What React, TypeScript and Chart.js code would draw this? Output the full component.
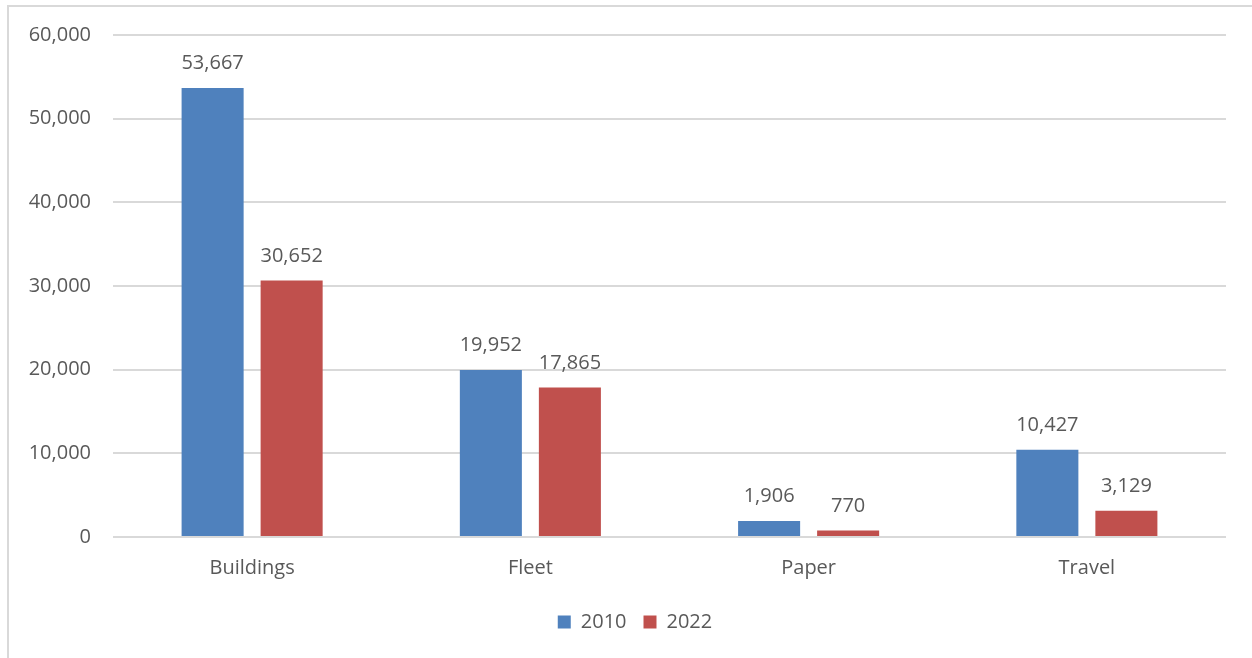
import React, { useEffect, useRef } from "react";
import { Chart, registerables } from "chart.js";

Chart.register(...registerables);

const categories = ["Buildings", "Fleet", "Paper", "Travel"];
const series2010 = [53667, 19952, 1906, 10427];
const series2022 = [30652, 17865, 770, 3129];
const seriesLabels = ["2010", "2022"];
const yTicks = [0, 10000, 20000, 30000, 40000, 50000, 60000];

const FONT = "'Open Sans', 'Noto Sans', sans-serif";
const TEXT = "#595959";

const valueLabels = {
  id: "valueLabels",
  afterLayout(chart: any) {
    if (chart.legend) {
      chart.legend.left += 22;
      chart.legend.right += 22;
    }
  },
  afterDatasetsDraw(chart: any) {
    const ctx = chart.ctx;
    ctx.save();
    ctx.font = `20px ${FONT}`;
    ctx.fillStyle = TEXT;
    ctx.textAlign = "center";
    ctx.textBaseline = "alphabetic";
    chart.data.datasets.forEach((ds: any, di: number) => {
      const meta = chart.getDatasetMeta(di);
      meta.data.forEach((bar: any, i: number) => {
        const v = ds.data[i] as number;
        ctx.fillText(v.toLocaleString("en-US"), bar.x, bar.y - 19);
      });
    });
    ctx.restore();
  },
};

export default function App() {
  const ref = useRef<HTMLCanvasElement>(null);
  useEffect(() => {
    const chart = new Chart(ref.current!, {
      type: "bar",
      data: {
        labels: categories,
        datasets: [
          { label: seriesLabels[0], data: series2010, backgroundColor: "#4F81BD" },
          { label: seriesLabels[1], data: series2022, backgroundColor: "#C0504D" },
        ],
      },
      options: {
        animation: false,
        responsive: false,
        maintainAspectRatio: false,
        devicePixelRatio: 1,
        layout: { padding: { left: 0, right: 26, top: 35, bottom: 16 } },
        datasets: { bar: { categoryPercentage: 0.568, barPercentage: 0.785 } },
        plugins: {
          tooltip: { enabled: false },
          legend: {
            position: "bottom",
            labels: {
              boxWidth: 13,
              boxHeight: 13,
              padding: 17,
              color: TEXT,
              font: { family: FONT, size: 20 },
            },
          },
        },
        scales: {
          x: {
            grid: { display: false, drawTicks: false },
            border: { display: false },
            ticks: { color: TEXT, font: { family: FONT, size: 20 }, padding: 19 },
            afterFit: (s: any) => { s.height = 58; },
          },
          y: {
            min: 0,
            max: 60000,
            afterBuildTicks: (s: any) => { s.ticks = yTicks.map((v) => ({ value: v })); },
            grid: { color: "#d9d9d9", lineWidth: 2, drawTicks: false },
            border: { display: false },
            ticks: {
              color: TEXT,
              font: { family: FONT, size: 20 },
              padding: 22,
              callback: (v: any) => Number(v).toLocaleString("en-US"),
            },
            afterFit: (s: any) => { s.width = 113; },
          },
        },
      },
      plugins: [valueLabels],
    });
    return () => chart.destroy();
  }, []);
  return (
    <div style={{ position: "fixed", left: 0, top: 0, width: 1252, height: 658, overflow: "hidden", background: "#fff" }}>
      <div style={{ position: "absolute", left: 7, top: 5, width: 1300, height: 700, border: "2px solid #d9d9d9", boxSizing: "border-box" }} />
      <canvas ref={ref} width={1252} height={658} style={{ position: "absolute", left: 0, top: 0 }} />
    </div>
  );
}
